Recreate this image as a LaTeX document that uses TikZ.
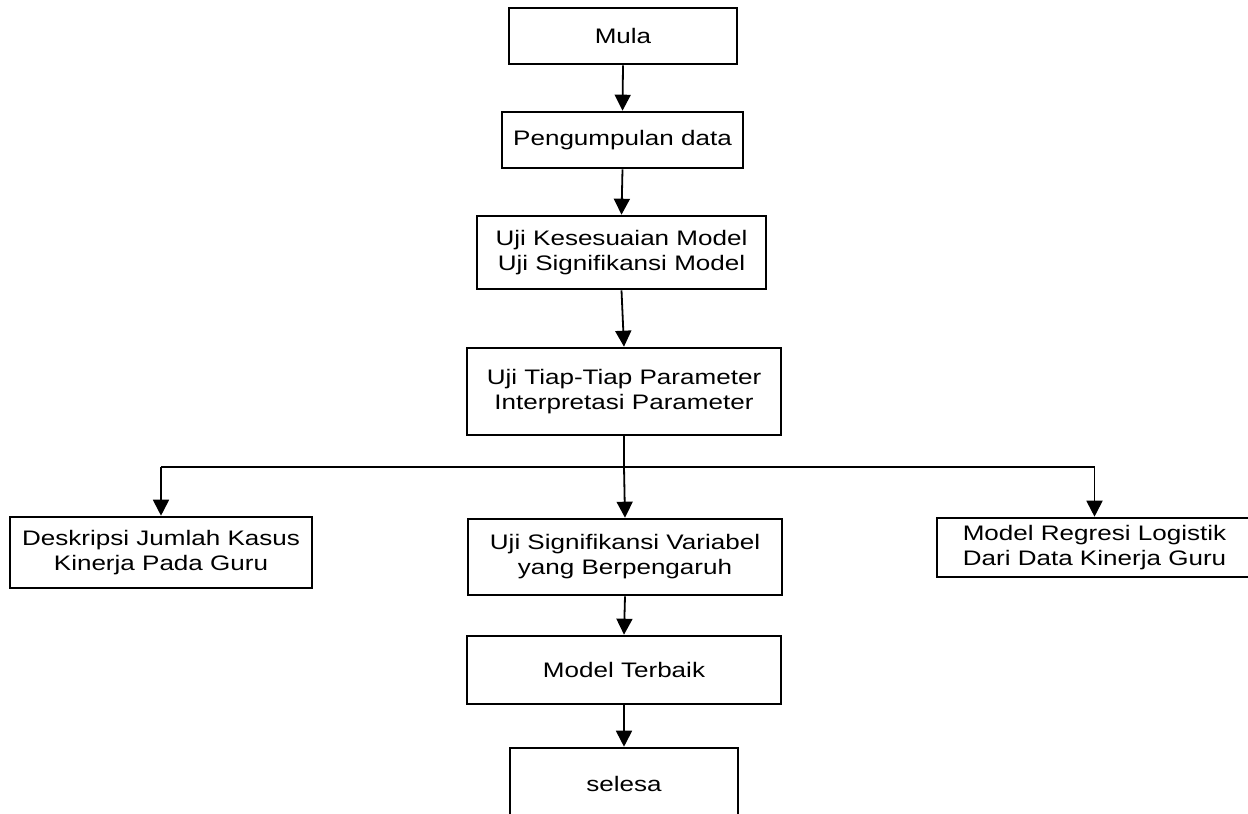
\documentclass[tikz,border=0pt]{standalone}
\usepackage{fontspec}
\setmainfont{Liberation Sans}[FakeStretch=1.24]
\usetikzlibrary{arrows.meta}
\begin{document}
\begin{tikzpicture}[x=1pt,y=-1pt,
  box/.style={draw,line width=2.6pt,inner sep=0pt,align=center,
    font=\fontsize{21}{25}\selectfont},
  arr/.style={line width=1.8pt,-{Triangle[width=16pt,length=16pt]}},
  thin/.style={line width=1.1pt}]
\fill[white] (0,0) rectangle (1248,814);
\useasboundingbox (0,0) rectangle (1248,814);
\clip (0,0) rectangle (1248,814);
\node[box,minimum width=228pt,minimum height=56pt] (mula) at (623,36) {Mula};
\node[box,minimum width=241pt,minimum height=56pt] (peng) at (622.5,140) {Pengumpulan data};
\node[box,minimum width=289pt,minimum height=73pt] (kes) at (621.5,252.5) {Uji Kesesuaian Model\\Uji Signifikansi Model};
\node[box,minimum width=314pt,minimum height=87pt] (tiap) at (624,391.5) {Uji Tiap-Tiap Parameter\\Interpretasi Parameter};
\node[box,minimum width=302pt,minimum height=71pt] (left) at (161,552.5) {Deskripsi Jumlah Kasus\\Kinerja Pada Guru};
\node[box,minimum width=314pt,minimum height=76pt] (mid) at (625,557) {Uji Signifikansi Variabel\\yang Berpengaruh};
\node[box,minimum width=315pt,minimum height=59pt] (right) at (1094.5,547.5) {Model Regresi Logistik\\Dari Data Kinerja Guru};
\node[box,minimum width=314pt,minimum height=68pt] (terb) at (624,670) {Model Terbaik};
\node[box,minimum width=228pt,minimum height=71pt] (sel) at (624,783.5) {selesa};
\coordinate (j) at (624,467);
\draw[arr] (mula.south) -- (peng.north);
\draw[arr] (peng.south) -- (kes.north);
\draw[arr] (kes.south) -- (tiap.north);
\draw[line width=1.8pt] (tiap.south) -- (j);
\draw[thin] (j) -- (j -| left.north);
\draw[thin] (j) -- (j -| right.north);
\draw[arr] (j -| left.north) -- (left.north);
\draw[arr] (j) -- (mid.north);
\draw[arr] (j -| right.north) -- (right.north);
\draw[arr] (mid.south) -- (terb.north);
\draw[arr] (terb.south) -- (sel.north);
\end{tikzpicture}
\end{document}
